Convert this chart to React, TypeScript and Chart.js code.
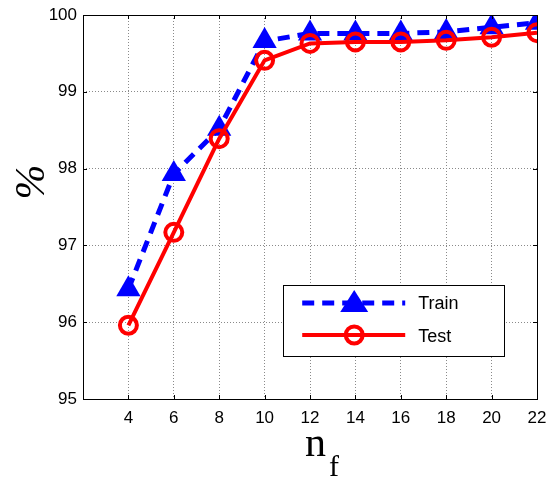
import React, { useEffect, useRef } from "react";
import { Chart, registerables } from "chart.js";

Chart.register(...registerables);

const nf = [4, 6, 8, 10, 12, 14, 16, 18, 20, 22];
const trainAcc = [96.43, 97.93, 98.52, 99.66, 99.76, 99.76, 99.76, 99.78, 99.84, 99.9];
const testAcc = [95.96, 97.17, 98.39, 99.41, 99.63, 99.65, 99.65, 99.67, 99.71, 99.77];
const xTicks = [2, 4, 6, 8, 10, 12, 14, 16, 18, 20, 22];
const yTicks = [95, 96, 97, 98, 99, 100];
const seriesNames = ["Train", "Test"];

const TICK_FONT = "'Liberation Sans', Arial, sans-serif";
const TITLE_FONT = "'Liberation Serif', 'Times New Roman', serif";

const framePlugin = {
  id: "frame",
  afterDraw(chart: any) {
    const { ctx, chartArea: a, scales } = chart;
    ctx.save();
    ctx.strokeStyle = "#000";
    ctx.lineWidth = 1;
    ctx.strokeRect(a.left + 0.5, a.top + 0.5, a.right - a.left, a.bottom - a.top);
    const tl = 4;
    ctx.beginPath();
    scales.x.ticks.forEach((t: any) => {
      const px = Math.round(scales.x.getPixelForValue(t.value)) + 0.5;
      ctx.moveTo(px, a.bottom);
      ctx.lineTo(px, a.bottom - tl);
      ctx.moveTo(px, a.top);
      ctx.lineTo(px, a.top + tl);
    });
    scales.y.ticks.forEach((t: any) => {
      const py = Math.round(scales.y.getPixelForValue(t.value)) + 0.5;
      ctx.moveTo(a.left, py);
      ctx.lineTo(a.left + tl, py);
      ctx.moveTo(a.right, py);
      ctx.lineTo(a.right - tl, py);
    });
    ctx.stroke();

    // axis titles
    ctx.fillStyle = "#000";
    ctx.font = `42px ${TITLE_FONT}`;
    ctx.textBaseline = "alphabetic";
    ctx.textAlign = "left";
    const cx = (a.left + a.right) / 2;
    ctx.fillText("n", cx - 5, 456);
    ctx.font = `30px ${TITLE_FONT}`;
    ctx.fillText("f", cx + 19, 476);

    ctx.save();
    ctx.translate(44, (a.top + a.bottom) / 2 - 25);
    ctx.rotate(-Math.PI / 2);
    ctx.font = `italic 42px ${TITLE_FONT}`;
    ctx.textAlign = "center";
    ctx.fillText("%", 0, 0);
    ctx.restore();

    // legend
    const lx = a.left + (a.right - a.left) * 0.441;
    const ly = a.top + (a.bottom - a.top) * 0.703;
    const lw = 221;
    const lh = 71;
    ctx.fillStyle = "#fff";
    ctx.fillRect(lx, ly, lw, lh);
    ctx.strokeStyle = "#000";
    ctx.lineWidth = 1;
    ctx.strokeRect(Math.round(lx) + 0.5, Math.round(ly) + 0.5, lw, lh);

    const x0 = lx + 19, x1 = lx + 122, mx = lx + 71;
    const y0 = ly + 18, y1 = ly + 50;
    ctx.strokeStyle = "#0000ff";
    ctx.lineWidth = 5;
    ctx.setLineDash([12, 8]);
    ctx.beginPath();
    ctx.moveTo(x0, y0);
    ctx.lineTo(x1, y0);
    ctx.stroke();
    ctx.setLineDash([]);
    ctx.fillStyle = "#0000ff";
    ctx.beginPath();
    ctx.moveTo(mx, y0 - 13);
    ctx.lineTo(mx + 14, y0 + 9);
    ctx.lineTo(mx - 14, y0 + 9);
    ctx.closePath();
    ctx.fill();
    ctx.strokeStyle = "#ff0000";
    ctx.lineWidth = 4;
    ctx.beginPath();
    ctx.moveTo(x0, y1);
    ctx.lineTo(x1, y1);
    ctx.stroke();
    ctx.beginPath();
    ctx.arc(mx, y1, 8.5, 0, Math.PI * 2);
    ctx.stroke();

    ctx.fillStyle = "#000";
    ctx.font = `18px ${TICK_FONT}`;
    ctx.textBaseline = "middle";
    ctx.textAlign = "left";
    ctx.fillText(seriesNames[0], lx + 135, y0 + 1);
    ctx.fillText(seriesNames[1], lx + 135, y1 + 2);
    ctx.restore();
  },
};

export default function App() {
  const ref = useRef<HTMLCanvasElement | null>(null);
  useEffect(() => {
    if (!ref.current) return;
    const chart = new Chart(ref.current, {
      type: "line",
      data: {
        datasets: [
          {
            label: seriesNames[0],
            data: nf.map((x, i) => ({ x, y: trainAcc[i] })),
            borderColor: "#0000ff",
            backgroundColor: "#0000ff",
            borderWidth: 5,
            borderDash: [12, 8],
            pointStyle: "triangle",
            pointRadius: 14,
            pointBorderWidth: 0,
            pointBackgroundColor: "#0000ff",
            order: 1,
          },
          {
            label: seriesNames[1],
            data: nf.map((x, i) => ({ x, y: testAcc[i] })),
            borderColor: "#ff0000",
            backgroundColor: "rgba(0,0,0,0)",
            borderWidth: 4,
            pointStyle: "circle",
            pointRadius: 8.5,
            pointBorderWidth: 4,
            pointBackgroundColor: "rgba(0,0,0,0)",
            order: 0,
          },
        ],
      },
      options: {
        animation: false,
        responsive: false,
        maintainAspectRatio: false,
        layout: { padding: { left: 0, right: 8, top: 15, bottom: 0 } },
        plugins: { legend: { display: false }, tooltip: { enabled: false } },
        scales: {
          x: {
            type: "linear",
            min: 2,
            max: 22,
            afterBuildTicks: (s: any) => {
              s.ticks = xTicks.map((v) => ({ value: v }));
            },
            afterFit: (s: any) => {
              s.height = 81;
              s.paddingLeft = 0;
              s.paddingRight = 0;
            },
            ticks: {
              color: "#000",
              font: { family: TICK_FONT, size: 17 },
              padding: 9,
              maxRotation: 0,
              autoSkip: false,
              callback: (v: any) => (v === 2 ? "" : String(v)),
            },
            grid: {
              color: "#8a8a8a",
              lineWidth: 1,
              drawTicks: false,
            },
            border: { display: false, dash: [1, 2] },
          },
          y: {
            min: 95,
            max: 100,
            afterBuildTicks: (s: any) => {
              s.ticks = yTicks.map((v) => ({ value: v }));
            },
            afterFit: (s: any) => {
              s.width = 83;
              s.paddingTop = 0;
              s.paddingBottom = 0;
            },
            ticks: {
              color: "#000",
              font: { family: TICK_FONT, size: 17 },
              padding: 6,
            },
            grid: {
              color: "#8a8a8a",
              lineWidth: 1,
              drawTicks: false,
            },
            border: { display: false, dash: [1, 2] },
          },
        },
      },
      plugins: [framePlugin],
    } as any);
    return () => chart.destroy();
  }, []);
  return (
    <div style={{ position: "fixed", left: 0, top: 0, width: 551, height: 480, background: "#fff" }}>
      <canvas ref={ref} width={551} height={480} style={{ width: 551, height: 480 }} />
    </div>
  );
}
